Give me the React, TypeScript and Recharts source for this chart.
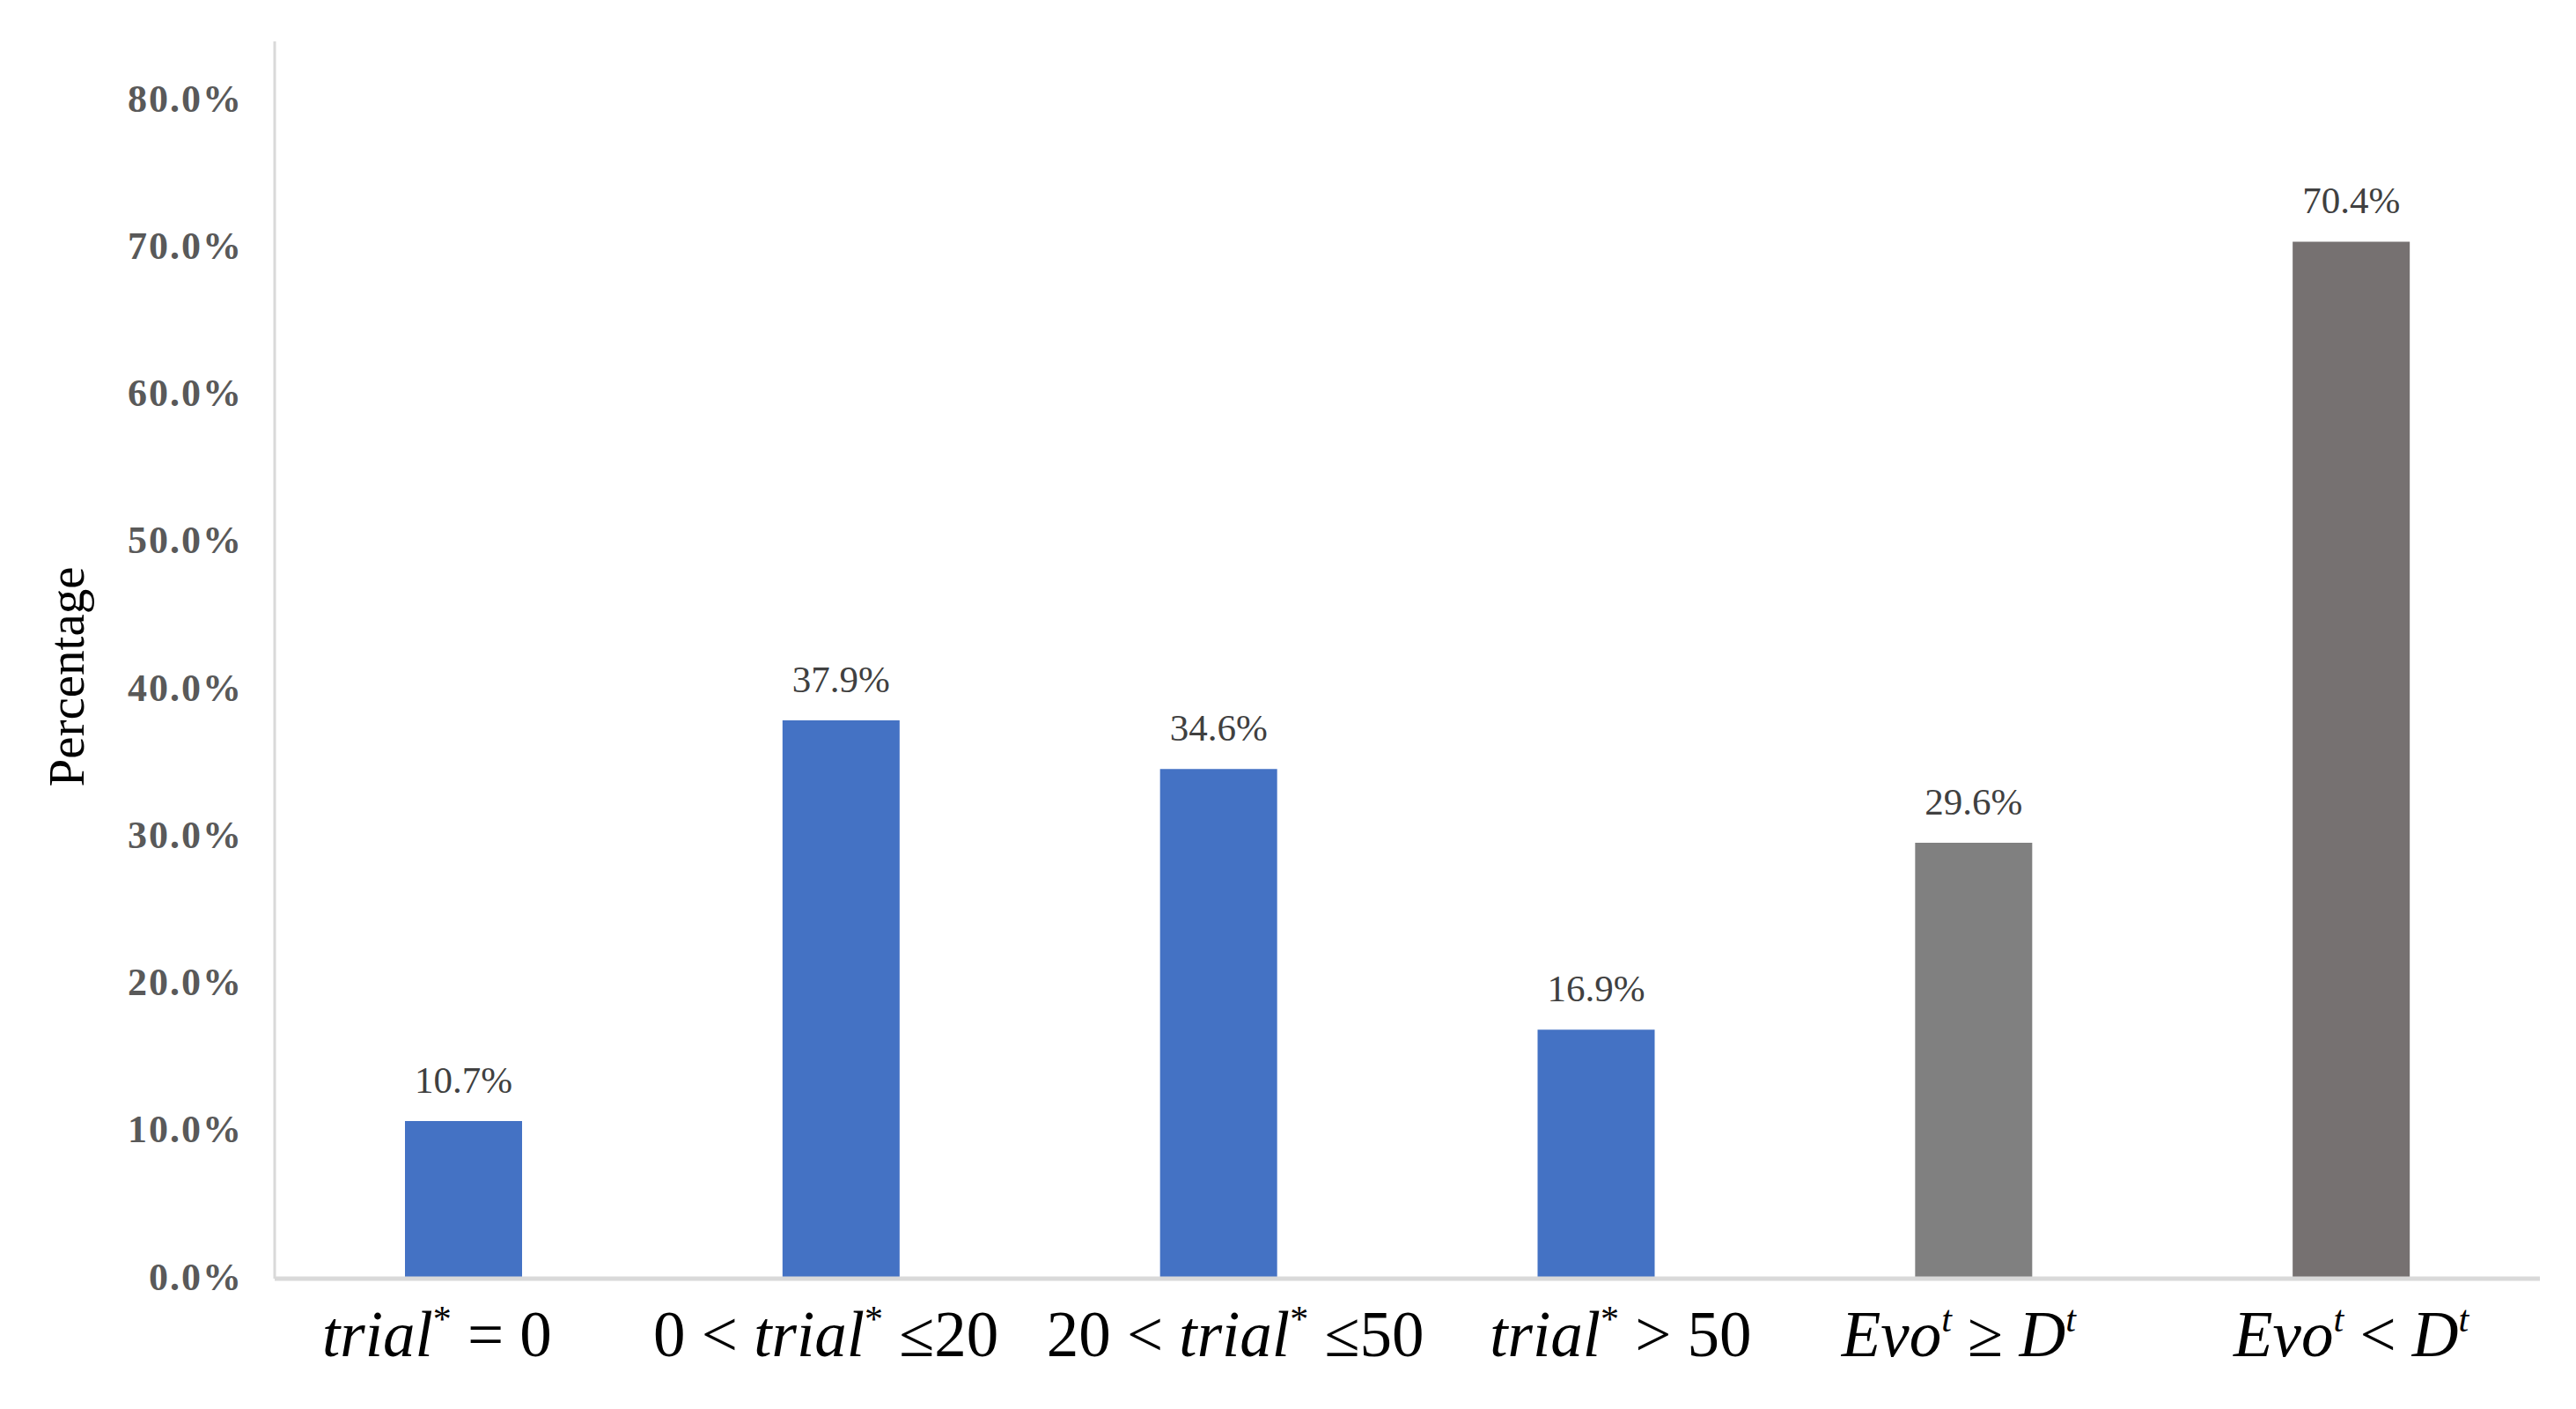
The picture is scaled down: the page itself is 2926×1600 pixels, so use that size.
import { BarChart, Bar, Cell, XAxis, YAxis, LabelList, Label } from "recharts";

const categories = [
  "trial* = 0",
  "0 < trial* ≤20",
  "20 < trial* ≤50",
  "trial* > 50",
  "Evo^t ≥ D^t",
  "Evo^t < D^t",
];
const shares = [10.7, 37.9, 34.6, 16.9, 29.6, 70.4];
const yTicks = [0, 10, 20, 30, 40, 50, 60, 70, 80];

const barColors = ["#4472C4", "#4472C4", "#4472C4", "#4472C4", "#808080", "#767171"];
// the category captions in the original sit a little off the bar centres
const captionShift = [-30, -17, 19, 28, -17, 0];

const data = categories.map((name, i) => ({ name, value: shares[i] }));

const SERIF = "'Liberation Serif', 'Times New Roman', serif";

// turns "trial* = 0" into italic / superscript pieces
function renderMath(label: string) {
  const parts = label.split(/(trial|Evo|D|\*|\^t)/).filter((p) => p !== "");
  const out: any[] = [];
  let raised = false;
  parts.forEach((p, i) => {
    const isSup = p === "*" || p === "^t";
    let dy = 0;
    if (isSup && !raised) {
      dy = -28;
      raised = true;
    } else if (!isSup && raised) {
      dy = 28;
      raised = false;
    }
    const italic = p === "trial" || p === "Evo" || p === "D" || p === "^t";
    out.push(
      <tspan
        key={i}
        dy={dy || undefined}
        fontStyle={italic ? "italic" : "normal"}
        fontSize={isSup ? 42 : 73}
      >
        {p === "^t" ? "t" : p}
      </tspan>
    );
  });
  return out;
}

function CategoryTick(props: any) {
  const { x, y, payload, index } = props;
  return (
    <text
      x={x + (captionShift[index] || 0)}
      y={y + 88}
      textAnchor="middle"
      fontFamily={SERIF}
      fill="#000"
    >
      {renderMath(payload.value)}
    </text>
  );
}

function YTitle(props: any) {
  const vb = props.viewBox || { x: 0, y: 0, height: 0 };
  const cx = 95;
  const cy = vb.y + vb.height / 2 + 19;
  return (
    <text
      x={cx}
      y={cy}
      textAnchor="middle"
      fontFamily={SERIF}
      fontSize={57}
      fill="#000"
      transform={`rotate(-90, ${cx}, ${cy})`}
    >
      Percentage
    </text>
  );
}

export default function App() {
  return (
    <div style={{ position: "absolute", left: 0, top: 0, background: "#fff" }}>
      <BarChart
        width={2926}
        height={1600}
        data={data}
        margin={{ top: 47, right: 41, bottom: 0, left: 0 }}
      >
        <XAxis
          dataKey="name"
          height={148}
          tickSize={0}
          tickMargin={0}
          tick={<CategoryTick />}
          axisLine={{ stroke: "#D9D9D9", strokeWidth: 5 }}
          interval={0}
        />
        <YAxis
          width={312}
          domain={[0, 84]}
          ticks={yTicks}
          allowDataOverflow
          tickSize={0}
          tickMargin={36}
          tickFormatter={(v: number) => `${v.toFixed(1)}%`}
          tick={{
            fontSize: 44,
            fontWeight: "bold",
            fill: "#595959",
            fontFamily: SERIF,
            letterSpacing: 2,
            dy: -3,
          }}
          axisLine={{ stroke: "#D9D9D9", strokeWidth: 3 }}
        >
          <Label content={<YTitle />} />
        </YAxis>
        <Bar dataKey="value" barSize={133} isAnimationActive={false}>
          {data.map((d, i) => (
            <Cell key={d.name} fill={barColors[i]} />
          ))}
          <LabelList
            dataKey="value"
            position="top"
            offset={32}
            formatter={(v: any) => `${Number(v).toFixed(1)}%`}
            fill="#404040"
            fontSize={43}
            fontFamily={SERIF}
          />
        </Bar>
      </BarChart>
    </div>
  );
}
